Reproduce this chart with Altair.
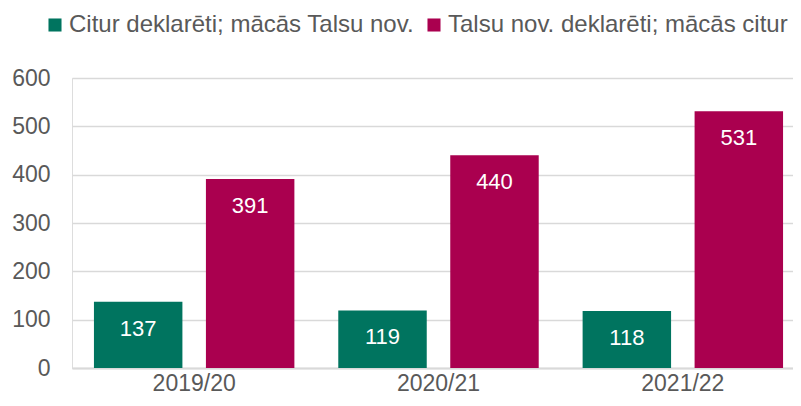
import altair as alt
import pandas as pd

years = ["2019/20", "2020/21", "2021/22"]
series_names = ["Citur deklarēti; mācās Talsu nov.", "Talsu nov. deklarēti; mācās citur"]
values_a = [137, 119, 118]
values_b = [391, 440, 531]
colors = ["#00745F", "#AA004F"]
y_ticks = [0, 100, 200, 300, 400, 500, 600]

rows = []
for i, yr in enumerate(years):
    rows.append({"year": yr, "series": series_names[0], "value": values_a[i]})
    rows.append({"year": yr, "series": series_names[1], "value": values_b[i]})
df = pd.DataFrame(rows)

FONT = "Liberation Sans"
TXT = "#595959"

base = alt.Chart(df).encode(
    x=alt.X("year:N", sort=years, title=None,
            scale=alt.Scale(paddingInner=0, paddingOuter=0, range=[0, 733]),
            axis=alt.Axis(labelAngle=0, labelFont=FONT, labelFontSize=23, labelColor=TXT,
                          ticks=False, labelPadding=22, labelBaseline="alphabetic",
                          domainColor="#D9D9D9", domainWidth=2, grid=False)),
    xOffset=alt.XOffset("series:N", sort=series_names,
                        scale=alt.Scale(paddingInner=0.21, paddingOuter=0.196)),
    y=alt.Y("value:Q", title=None,
            scale=alt.Scale(domain=[0, 600], nice=False),
            axis=alt.Axis(values=y_ticks, labelFont=FONT, labelFontSize=23, labelColor=TXT,
                          ticks=False, domain=False, labelPadding=22,
                          gridColor="#D9D9D9", gridWidth=1.5)),
)

bars = base.mark_bar().encode(
    color=alt.Color("series:N", sort=series_names,
                    scale=alt.Scale(domain=series_names, range=colors),
                    legend=alt.Legend(title=None, orient="none", legendX=-29, legendY=-65,
                                      direction="horizontal", symbolType="square",
                                      symbolSize=170, symbolStrokeWidth=0, padding=0,
                                      labelFont=FONT, labelFontSize=24, labelColor=TXT,
                                      labelOffset=2, columnPadding=7, labelLimit=500)),
)

labels = base.mark_text(baseline="middle", align="center", dy=27, color="white",
                        font=FONT, fontSize=22).encode(
    text=alt.Text("value:Q"),
)

chart = (bars + labels).properties(
    width=721, height=290,
    autosize=alt.AutoSizeParams(type="none"),
    padding={"left": 64, "top": 70, "right": 0, "bottom": 26},
).configure_view(fill="#F0EEEF", stroke=None).configure(background="white")

chart.save("out.html", embed_options={"renderer": "svg", "actions": False})
